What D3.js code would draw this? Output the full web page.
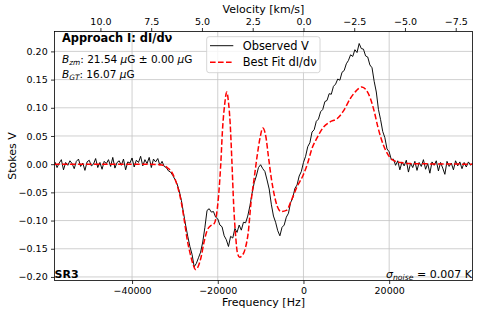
<!DOCTYPE html>
<html>
<head>
<meta charset="utf-8">
<script src="https://cdn.jsdelivr.net/npm/d3@7"></script>
<style>
body { margin: 0; background: #fff; }
svg { display: block; font-family: "DejaVu Sans", sans-serif; }
</style>
</head>
<body>
<div id="chart"></div>
<script>
// observed Stokes V, one value per 500 Hz channel starting at -58000 Hz
var obsStart = -58000;
var obsStep = 500;
var obsValues = [
  0.004, -0.006, 0.002, 0.008, -0.010, 0.003, -0.002, 0.006, 0.001, -0.008,
  0.005, 0.009, -0.004, 0.002, -0.011, 0.004, 0.007, -0.003, 0.000, 0.010,
  -0.006, 0.003, -0.009, 0.005, 0.001, 0.008, -0.004, 0.012, -0.007, 0.003,
  0.006, -0.002, 0.009, -0.010, 0.004, 0.002, 0.011, -0.005, 0.007, 0.003,
  0.014, -0.003, 0.008, 0.001, 0.012, -0.006, 0.009, 0.004, 0.010, -0.002,
  0.005, -0.004,
  -0.006, -0.012, -0.014, -0.020, -0.027, -0.035, -0.047, -0.064, -0.086, -0.108,
  -0.128, -0.146, -0.160, -0.182, -0.176, -0.166, -0.156, -0.138, -0.112, -0.082,
  -0.079, -0.085, -0.084, -0.094, -0.097, -0.108, -0.111, -0.127, -0.134, -0.146,
  -0.128, -0.131, -0.114, -0.121, -0.108, -0.117, -0.103, -0.104, -0.092, -0.074,
  -0.052, -0.033, -0.021, -0.006, -0.001, -0.008, -0.013, -0.028, -0.044, -0.071,
  -0.092, -0.103, -0.118, -0.127, -0.112, -0.108, -0.094, -0.087, -0.068, -0.060,
  -0.043, -0.037, -0.021, -0.013, 0.003, 0.014, 0.031, 0.038, 0.057, 0.061,
  0.076, 0.080, 0.093, 0.097, 0.111, 0.113, 0.125, 0.124, 0.138, 0.142,
  0.151, 0.149, 0.163, 0.166, 0.178, 0.184, 0.194, 0.191, 0.203, 0.198,
  0.214, 0.205, 0.204, 0.192, 0.190, 0.176, 0.171, 0.147, 0.128, 0.097,
  0.079, 0.058, 0.047, 0.027, 0.022, 0.008, 0.009, -0.002,
  0.006, -0.010, 0.004, -0.003, 0.007, -0.014, 0.002, -0.006, 0.005, -0.011,
  0.003, -0.004, 0.008, -0.009, 0.001, -0.016, 0.004, -0.002, 0.006, -0.012,
  0.003, -0.007, -0.018, 0.005, -0.004, 0.002, -0.010, 0.006, -0.003, 0.004,
  -0.008, 0.003, -0.005, 0.004, -0.002, 0.002
];

// best fit dI/dnu curve
var fitFreq = [-58200, -47450, -38100, -33400, -31800, -30600, -29500, -28500, -27800, -27100,
  -26400, -25700, -25200, -24600, -23900, -23200, -22500, -21800, -20800, -20300,
  -19800, -19300, -18900, -18400, -17900, -17500, -17100, -16700, -16300, -15800,
  -15400, -14900, -14300, -13600, -12900, -12200, -11500, -10800, -10100, -9500,
  -8800, -8200, -7500, -6800, -6100, -5200, -4000, -2600, -1500, -100,
  900, 2000, 3200, 4600, 6200, 7900, 9300, 10900, 12300, 13600,
  14600, 15600, 16500, 17400, 18600, 19800, 20900, 22600, 24900, 39500];
var fitValues = [0, 0, 0, -0.001, -0.006, -0.016, -0.037, -0.068, -0.100, -0.135,
  -0.160, -0.179, -0.187, -0.182, -0.165, -0.138, -0.118, -0.110, -0.105, -0.090,
  -0.055, 0.000, 0.060, 0.105, 0.128, 0.110, 0.072, 0.005, -0.070, -0.130,
  -0.158, -0.165, -0.162, -0.150, -0.122, -0.065, -0.025, 0.015, 0.048, 0.064,
  0.050, 0.015, -0.025, -0.055, -0.075, -0.084, -0.082, -0.060, -0.040, -0.020,
  0.000, 0.028, 0.047, 0.065, 0.075, 0.081, 0.094, 0.116, 0.130, 0.137,
  0.132, 0.117, 0.094, 0.065, 0.035, 0.016, 0.007, 0.003, 0.001, 0];

var freqTicks = [-40000, -20000, 0, 20000];
var velTicks = [10, 7.5, 5, 2.5, 0, -2.5, -5, -7.5];
var yTicks = [-0.20, -0.15, -0.10, -0.05, 0.00, 0.05, 0.10, 0.15, 0.20];

var restFreq = 1420405751.768; // Hz
var cLight = 299792.458; // km/s

var W = 478, H = 315;
var L = 54.5, R = 472.5, T = 31.5, B = 280.5;

var svg = d3.select("#chart").append("svg").attr("width", W).attr("height", H);

var x = d3.scaleLinear().domain([-58100, 39450]).range([L, R]);
var y = d3.scaleLinear().domain([-0.2063, 0.2353]).range([B, T]);
var vel = d3.scaleLinear()
	.domain(x.domain().map(function(f) { return -f * cLight / restFreq; }))
	.range([L, R]);

svg.append("defs").append("clipPath").attr("id", "plotClip")
	.append("rect").attr("x", L).attr("y", T).attr("width", R - L).attr("height", B - T);

// grid
svg.append("g").selectAll("line").data(freqTicks).enter().append("line")
	.attr("x1", function(d) { return x(d); }).attr("x2", function(d) { return x(d); })
	.attr("y1", T).attr("y2", B)
	.style("stroke", "#c4c4c4").style("stroke-width", 0.8);
svg.append("g").selectAll("line").data(yTicks).enter().append("line")
	.attr("x1", L).attr("x2", R)
	.attr("y1", function(d) { return y(d); }).attr("y2", function(d) { return y(d); })
	.style("stroke", "#c4c4c4").style("stroke-width", 0.8);

var obsData = obsValues.map(function(v, i) { return {f: obsStart + i * obsStep, v: v}; });
var fitData = fitFreq.map(function(f, i) { return {f: f, v: fitValues[i]}; });

var plot = svg.append("g").attr("clip-path", "url(#plotClip)");

plot.append("path").datum(obsData)
	.attr("d", d3.line()
		.x(function(d) { return x(d.f); }).y(function(d) { return y(d.v); }))
	.style("fill", "none").style("stroke", "#000").style("stroke-width", 0.95);

plot.append("path").datum(fitData)
	.attr("d", d3.line().curve(d3.curveMonotoneX)
		.x(function(d) { return x(d.f); }).y(function(d) { return y(d.v); }))
	.style("fill", "none").style("stroke", "#ff0000").style("stroke-width", 1.5)
	.style("stroke-dasharray", "5.6,2.4");

// axes
function styleAxis(g) {
	g.select(".domain").remove();
	g.selectAll(".tick line").style("stroke", "#000").style("stroke-width", 0.8);
	g.selectAll(".tick text").style("font-size", "9.5px").style("fill", "#000")
		.style("font-family", "DejaVu Sans");
}

svg.append("g").attr("transform", "translate(0," + B + ")")
	.call(d3.axisBottom(x).tickValues(freqTicks).tickFormat(d3.format("d")).tickSize(3.5).tickPadding(3.3))
	.call(styleAxis);
svg.append("g").attr("transform", "translate(0," + T + ")")
	.call(d3.axisTop(vel).tickValues(velTicks).tickFormat(d3.format(".1f")).tickSize(3.5).tickPadding(3.3))
	.call(styleAxis);
svg.append("g").attr("transform", "translate(" + L + ",0)")
	.call(d3.axisLeft(y).tickValues(yTicks).tickFormat(d3.format(".2f")).tickSize(3.5).tickPadding(3.3))
	.call(styleAxis);

svg.append("rect").attr("x", L).attr("y", T).attr("width", R - L).attr("height", B - T)
	.style("fill", "none").style("stroke", "#000").style("stroke-width", 0.8);

// axis labels
svg.append("text").attr("x", (L + R) / 2).attr("y", 13.2).attr("text-anchor", "middle")
	.style("font-size", "11px").text("Velocity [km/s]");
svg.append("text").attr("x", (L + R) / 2).attr("y", 306).attr("text-anchor", "middle")
	.style("font-size", "11px").text("Frequency [Hz]");
svg.append("text").attr("transform", "translate(15.5," + ((T + B) / 2) + ") rotate(-90)")
	.attr("text-anchor", "middle").style("font-size", "11px").text("Stokes V");

// annotations
svg.append("text").attr("x", 62).attr("y", 42).style("font-size", "11.4px").style("font-weight", "bold")
	.text("Approach I: dI/dν");

var bzm = svg.append("text").attr("x", 62).attr("y", 63).style("font-size", "10.5px");
bzm.append("tspan").style("font-style", "italic").text("B");
bzm.append("tspan").style("font-style", "italic").style("font-size", "7.4px").attr("dy", 2.2).text("zm");
bzm.append("tspan").attr("dy", -2.2).text(": 21.54 ");
bzm.append("tspan").style("font-style", "italic").text("μ");
bzm.append("tspan").text("G ± 0.00 ");
bzm.append("tspan").style("font-style", "italic").text("μ");
bzm.append("tspan").text("G");

var bgt = svg.append("text").attr("x", 62).attr("y", 78).style("font-size", "10.5px");
bgt.append("tspan").style("font-style", "italic").text("B");
bgt.append("tspan").style("font-style", "italic").style("font-size", "7.4px").attr("dy", 2.2).text("GT");
bgt.append("tspan").attr("dy", -2.2).text(": 16.07 ");
bgt.append("tspan").style("font-style", "italic").text("μ");
bgt.append("tspan").text("G");

svg.append("text").attr("x", L).attr("y", 278).style("font-size", "11px").style("font-weight", "bold")
	.text("SR3");

var sig = plot.append("text").attr("x", 386).attr("y", 278).style("font-size", "11px");
sig.append("tspan").style("font-style", "italic").text("σ");
sig.append("tspan").style("font-style", "italic").style("font-size", "7.7px").attr("dy", 2.4).text("noise");
sig.append("tspan").attr("dy", -2.4).text(" = 0.007 K");

// legend
var leg = svg.append("g");
leg.append("rect").attr("x", 206.7).attr("y", 36.7).attr("width", 113.3).attr("height", 36)
	.attr("rx", 2.5).style("fill", "#fff").style("fill-opacity", 0.8)
	.style("stroke", "#cccccc").style("stroke-width", 0.8);
leg.append("line").attr("x1", 210).attr("x2", 233.3).attr("y1", 45.7).attr("y2", 45.7)
	.style("stroke", "#000").style("stroke-width", 0.95);
leg.append("line").attr("x1", 210).attr("x2", 233.3).attr("y1", 62.3).attr("y2", 62.3)
	.style("stroke", "#ff0000").style("stroke-width", 1.5).style("stroke-dasharray", "5.6,2.4");
leg.append("text").attr("x", 242.7).attr("y", 49.6).style("font-size", "11.4px").text("Observed V");
leg.append("text").attr("x", 242.7).attr("y", 66.2).style("font-size", "11.4px").text("Best Fit dI/dν");
</script>
</body>
</html>
